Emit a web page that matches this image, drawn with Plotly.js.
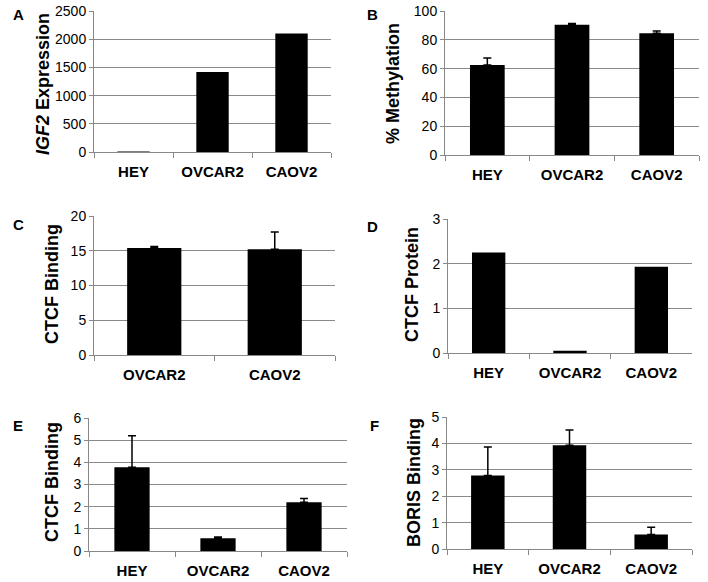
<!DOCTYPE html>
<html><head><meta charset="utf-8">
<script src="https://cdn.plot.ly/plotly-3.0.1.min.js"></script>
<style>body{margin:0;background:#fff}#chart{width:708px;height:582px}</style>
</head><body><div id="chart"></div>
<script>
// Data
const cellsABC = ["HEY", "OVCAR2", "CAOV2"];
const cellsC = ["OVCAR2", "CAOV2"];
const igf2Expr = [8, 1420, 2100];
const methylation = [62.5, 90.5, 84.5];
const methylationErr = [4.8, 0.8, 1.6];
const ctcfBindingC = [15.4, 15.2];
const ctcfBindingCErr = [0.2, 2.5];
const ctcfProtein = [2.25, 0.05, 1.93];
const ctcfBindingE = [3.78, 0.58, 2.2];
const ctcfBindingEErr = [1.42, 0.05, 0.17];
const borisBinding = [2.78, 3.93, 0.55];
const borisBindingErr = [1.08, 0.58, 0.27];

const W = 708, H = 582;
const FONT = "Liberation Sans, Arial, sans-serif";
function xd(a, b) { return [a / W, b / W]; }
function yd(top, bot) { return [1 - bot / H, 1 - top / H]; }

const panels = [
  {x: cellsABC, y: igf2Expr, err: null, range: [0, 2500], dtick: 500, xdom: xd(94, 331), ydom: yd(11, 152), bw: 0.41,
   title: "<i>IGF2</i> Expression", tx: 43, ty: 84, letter: "A", lx: 18, ly: 14},
  {x: cellsABC, y: methylation, err: methylationErr, range: [0, 100], dtick: 20, xdom: xd(445, 699), ydom: yd(11, 155), bw: 0.41,
   title: "% Methylation", tx: 393, ty: 84, letter: "B", lx: 372, ly: 14},
  {x: cellsC, y: ctcfBindingC, err: ctcfBindingCErr, range: [0, 20], dtick: 5, xdom: xd(94, 335), ydom: yd(216, 355), bw: 0.45,
   title: "CTCF Binding", tx: 52, ty: 284, letter: "C", lx: 18, ly: 225},
  {x: cellsABC, y: ctcfProtein, err: null, range: [0, 3], dtick: 1, xdom: xd(448, 692), ydom: yd(219, 353), bw: 0.41,
   title: "CTCF Protein", tx: 412, ty: 285, letter: "D", lx: 372, ly: 227},
  {x: cellsABC, y: ctcfBindingE, err: ctcfBindingEErr, range: [0, 6], dtick: 1, xdom: xd(89, 347), ydom: yd(418, 551), bw: 0.41,
   title: "CTCF Binding", tx: 52, ty: 482, letter: "E", lx: 18, ly: 425},
  {x: cellsABC, y: borisBinding, err: borisBindingErr, range: [0, 5], dtick: 1, xdom: xd(447, 692), ydom: yd(417, 549), bw: 0.41,
   title: "BORIS Binding", tx: 414, ty: 483, letter: "F", lx: 374, ly: 425}
];

const data = [];
const layout = {
  width: W, height: H, margin: {l: 0, r: 0, t: 0, b: 0},
  paper_bgcolor: "#fff", plot_bgcolor: "#fff", showlegend: false,
  font: {family: FONT, color: "#000"},
  annotations: []
};

panels.forEach((p, i) => {
  const n = i === 0 ? "" : String(i + 1);
  const tr = {
    type: "bar", x: p.x, y: p.y, width: p.bw,
    xaxis: "x" + n, yaxis: "y" + n,
    marker: {color: "#000", line: {width: 0}},
    hoverinfo: "none"
  };
  if (p.err) {
    tr.error_y = {type: "data", symmetric: false, array: p.err, arrayminus: p.err.map(() => 0),
      color: "#000", thickness: 1.5, width: 4};
  }
  data.push(tr);
  layout["xaxis" + n] = {
    domain: p.xdom, anchor: "y" + n, type: "category",
    showline: true, linecolor: "#888", linewidth: 1,
    ticks: "outside", tickson: "boundaries", ticklen: 5, tickcolor: "#888",
    tickfont: {family: FONT, size: 15, color: "#000", weight: "bold"},
    ticklabelstandoff: 6,
    showgrid: false, zeroline: false, fixedrange: true
  };
  layout["yaxis" + n] = {
    domain: p.ydom, anchor: "x" + n, range: p.range, dtick: p.dtick, tick0: 0,
    showline: true, linecolor: "#888", linewidth: 1,
    ticks: "outside", ticklen: 4, tickcolor: "#888",
    tickfont: {family: FONT, size: 14, color: "#000"},
    showgrid: true, gridcolor: "#8a8a8a", gridwidth: 1, zeroline: false, fixedrange: true
  };
});

// draw the lower panels' labels first, then the upper ones
panels.slice().reverse().forEach(p => {
  layout.annotations.push({
    text: "<b>" + p.title + "</b>", xref: "paper", yref: "paper",
    x: p.tx / W, y: 1 - p.ty / H, xanchor: "center", yanchor: "middle",
    textangle: -90, showarrow: false, font: {family: FONT, size: 18, color: "#000", weight: "bold"}
  });
  layout.annotations.push({
    text: p.letter, xref: "paper", yref: "paper",
    x: p.lx / W, y: 1 - p.ly / H, xanchor: "center", yanchor: "middle",
    showarrow: false, font: {family: FONT, size: 15, color: "#000", weight: "bold"}
  });
});

Plotly.newPlot("chart", data, layout, {staticPlot: true});
</script></body></html>
